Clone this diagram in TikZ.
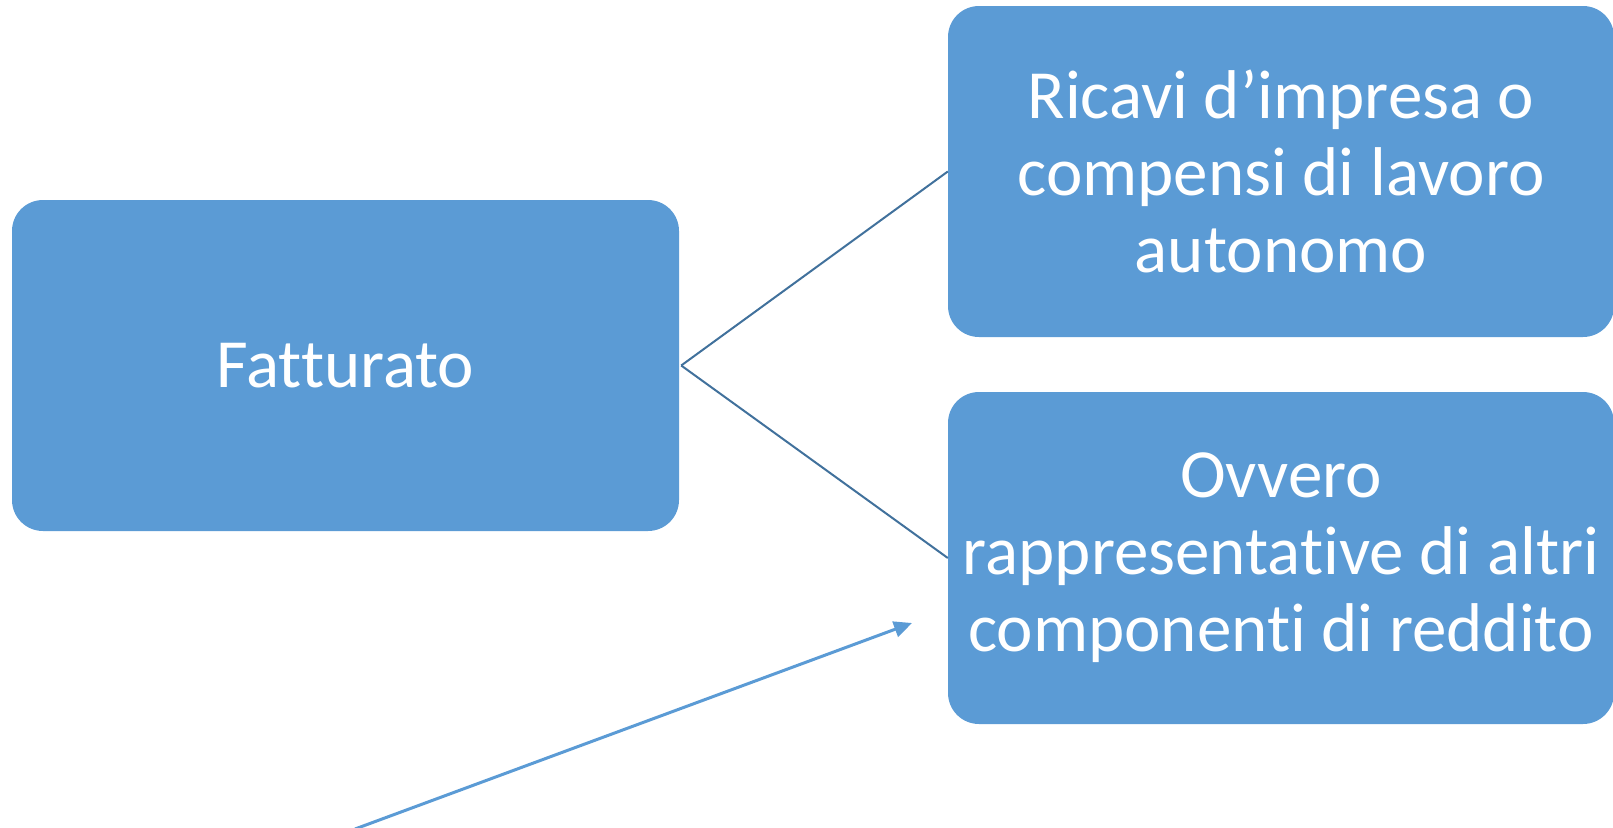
\documentclass[tikz,border=0pt]{standalone}
\usepackage{fontspec}
\setmainfont{Carlito}[Ligatures={NoCommon}]
\usetikzlibrary{arrows.meta}
\definecolor{boxblue}{HTML}{5B9BD5}
\definecolor{linkblue}{HTML}{41719C}
\tikzset{
  box/.style={fill=boxblue, rounded corners=31pt, inner sep=0pt, text=white,
    align=center, font=\fontsize{69}{77}\selectfont},
  link/.style={draw=linkblue, line width=2pt},
  freearrow/.style={draw=boxblue, line width=3pt, -{Triangle[length=18pt,width=16pt]}}
}
\begin{document}
\begin{tikzpicture}[x=1pt,y=-1pt]
\useasboundingbox (0,0) rectangle (1613,827);
\node[box, minimum width=667pt, minimum height=331pt] (fat) at (345.5,365.5) {Fatturato};
\node[box, minimum width=666pt, minimum height=331pt] (r1) at (1281,171.5) {Ricavi d’impresa o\\compensi di lavoro\\autonomo};
\node[box, minimum width=666pt, minimum height=332pt] (r2) at (1281,558) {Ovvero\\rappresentative di altri\\componenti di reddito};
\draw[link] (fat.east) ++(2,0) -- (r1.west);
\draw[link] (fat.east) ++(2,0) -- (r2.west);
\coordinate (as) at (355,829);
\coordinate (ae) at (912,623);
\draw[freearrow] (as) -- (ae);
\end{tikzpicture}
\end{document}
